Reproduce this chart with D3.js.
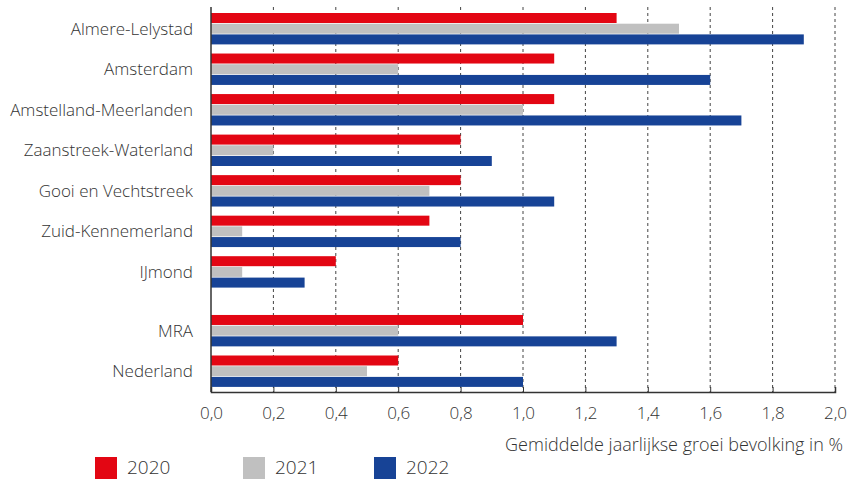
<!DOCTYPE html>
<html>
<head>
<meta charset="utf-8">
<script src="https://cdn.jsdelivr.net/npm/d3@7"></script>
<style>
  body { margin: 0; background: #fff; }
  svg text { font-family: "Open Sans", Lato, sans-serif; font-weight: 300; fill: #333; }
</style>
</head>
<body>
<div id="chart"></div>
<script>
const regions = ["Almere-Lelystad", "Amsterdam", "Amstelland-Meerlanden", "Zaanstreek-Waterland",
  "Gooi en Vechtstreek", "Zuid-Kennemerland", "IJmond", "MRA", "Nederland"];
const years = ["2020", "2021", "2022"];
const growth2020 = [1.3, 1.1, 1.1, 0.8, 0.8, 0.7, 0.4, 1.0, 0.6];
const growth2021 = [1.5, 0.6, 1.0, 0.2, 0.7, 0.1, 0.1, 0.6, 0.5];
const growth2022 = [1.9, 1.6, 1.7, 0.9, 1.1, 0.8, 0.3, 1.3, 1.0];
const xTicks = [0, 0.2, 0.4, 0.6, 0.8, 1.0, 1.2, 1.4, 1.6, 1.8, 2.0];
const colors = ["#e30613", "#c0c0c0", "#174396"];

const series = [growth2020, growth2021, growth2022];

const width = 854, height = 479;
const x0 = 211, x1 = 835, plotTop = 7, plotBottom = 392;

const svg = d3.select("#chart").append("svg")
  .attr("width", width)
  .attr("height", height);

const x = d3.scaleLinear().domain([0, 2]).range([x0, x1]);

// group slots, with an extra gap before the totals (MRA, Nederland)
const slot = i => i + (i >= 7 ? 0.45 : 0);
const y = d3.scaleLinear().domain([0, 8.45]).range([13, 355.5]);
const barH = 10, barStep = 10.7;

// dashed gridlines
svg.append("g")
  .selectAll("line")
  .data(xTicks.slice(1))
  .join("line")
  .attr("x1", d => x(d)).attr("x2", d => x(d))
  .attr("y1", plotTop).attr("y2", plotBottom)
  .attr("stroke", "#444")
  .attr("stroke-width", 1)
  .attr("stroke-dasharray", "3,3");

// bars
series.forEach((vals, s) => {
  svg.append("g")
    .selectAll("rect")
    .data(vals)
    .join("rect")
    .attr("x", x(0))
    .attr("y", (d, i) => y(slot(i)) + s * barStep)
    .attr("width", d => x(d) - x(0))
    .attr("height", barH)
    .attr("fill", colors[s]);
});

// axes
const xAxis = svg.append("g")
  .attr("transform", `translate(0,${plotBottom})`)
  .call(d3.axisBottom(x).tickValues(xTicks).tickSize(-5).tickPadding(15)
    .tickFormat(d => d3.format(".1f")(d).replace(".", ",")));
xAxis.select(".domain").attr("stroke", "#333").attr("stroke-width", 1.5);
xAxis.selectAll(".tick line").attr("stroke", "#333");
xAxis.selectAll("text").attr("font-size", 17).attr("fill", "#333").attr("dy", "0.71em")
  .attr("font-family", "'Open Sans', sans-serif").attr("font-weight", 300);

svg.append("line")
  .attr("x1", x0).attr("x2", x0)
  .attr("y1", plotTop).attr("y2", plotBottom)
  .attr("stroke", "#333").attr("stroke-width", 1.5);

// region labels
svg.append("g")
  .selectAll("text")
  .data(regions)
  .join("text")
  .attr("x", 193)
  .attr("y", (d, i) => y(slot(i)) + barStep + barH / 2)
  .attr("dy", "0.35em")
  .attr("text-anchor", "end")
  .attr("font-size", 17)
  .text(d => d);

svg.append("text")
  .attr("x", 843)
  .attr("y", 451)
  .attr("text-anchor", "end")
  .attr("font-size", 18)
  .text("Gemiddelde jaarlijkse groei bevolking in %");

// legend
const legendX = [95, 243, 374];
const legend = svg.append("g")
  .selectAll("g")
  .data(years)
  .join("g")
  .attr("transform", (d, i) => `translate(${legendX[i]},457)`);
legend.append("rect")
  .attr("width", 22).attr("height", 22)
  .attr("fill", (d, i) => colors[i]);
legend.append("text")
  .attr("x", 32).attr("y", 16.5)
  .attr("font-size", 19)
  .text(d => d);
</script>
</body>
</html>
